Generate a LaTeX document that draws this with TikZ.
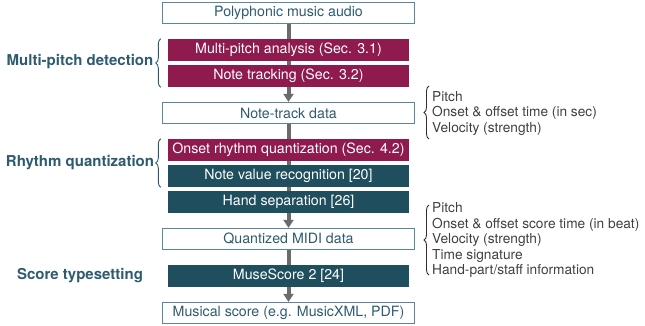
\documentclass[tikz,border=0pt]{standalone}
\usepackage{fontspec}
\setmainfont{TeX Gyre Heros}
\usetikzlibrary{arrows.meta,decorations.pathreplacing,backgrounds}
\definecolor{wine}{HTML}{8E1A4E}
\definecolor{petrol}{HTML}{1F4E5E}
\definecolor{frameblue}{HTML}{5A8799}
\definecolor{labelblue}{HTML}{2E5B70}
\definecolor{notegray}{HTML}{404040}
\definecolor{bracebrown}{HTML}{3B2B22}
\begin{document}
\begin{tikzpicture}[x=1pt,y=-1pt,
    font=\fontsize{14.2}{15.5}\selectfont,
    databox/.style={draw=frameblue,line width=1.2pt,fill=white,text=labelblue,
        minimum width=252pt,minimum height=21pt,inner sep=0pt},
    redbox/.style={fill=wine,text=white,minimum width=241pt,minimum height=22pt,inner sep=0pt},
    bluebox/.style={fill=petrol,text=white,minimum width=241pt,minimum height=22pt,inner sep=0pt},
    stage/.style={text=labelblue,font=\fontsize{15}{17}\selectfont\bfseries},
    flow/.style={-{Triangle[width=10pt,length=8pt]},draw=black!58,line width=4pt},
    lbrace/.style={decorate,decoration={brace,amplitude=5pt},draw=labelblue,line width=0.9pt},
    rbrace/.style={decorate,decoration={brace,amplitude=5pt},draw=bracebrown,line width=0.9pt},
    notes/.style={text=notegray,align=left,anchor=west,inner sep=0pt,
        font=\fontsize{13.7}{15.5}\selectfont}]
    \useasboundingbox (0,0) rectangle (645,325);

    % Pipeline
    \node[databox] (audio) at (288.5,13) {Polyphonic music audio};
    \node[redbox] (mpa) at (288.5,50) {Multi-pitch analysis (Sec. 3.1)};
    \node[redbox] (tracking) at (288.5,76) {Note tracking (Sec. 3.2)};
    \node[databox] (notetrack) at (288.5,113) {Note-track data};
    \node[redbox] (onset) at (288.5,150) {Onset rhythm quantization (Sec. 4.2)};
    \node[bluebox] (noteval) at (288.5,176) {Note value recognition [20]};
    \node[bluebox] (hand) at (288.5,202) {Hand separation [26]};
    \node[databox] (qmidi) at (288.5,239) {Quantized MIDI data};
    \node[bluebox] (musescore) at (288.5,276) {MuseScore 2 [24]};
    \node[databox] (score) at (288.5,313) {Musical score (e.g. MusicXML, PDF)};

    % Arrows behind the boxes
    \begin{scope}[on background layer]
        \draw[flow] (audio) -- (notetrack);
        \draw[flow] (notetrack) -- (qmidi);
        \draw[flow] (qmidi) -- (score);
    \end{scope}

    % Stages
    \draw[lbrace] ([xshift=-7pt]tracking.south west) -- ([xshift=-7pt]mpa.north west);
    \draw[lbrace] ([xshift=-7pt]noteval.south west) -- ([xshift=-7pt]onset.north west);
    \node[stage] (detect) at (80,62) {Multi-pitch detection};
    \node[stage] (rhythm) at (80,163) {Rhythm quantization};
    \node[stage] (typeset) at (80,276) {Score typesetting};

    % Data contents
    \coordinate (nt top) at (429,86);
    \coordinate (nt bot) at (429,139);
    \coordinate (qm top) at (429,205);
    \coordinate (qm bot) at (429,275);
    \draw[rbrace] (nt bot) -- (nt top);
    \draw[rbrace] (qm bot) -- (qm top);
    \node[notes] (ntinfo) at (432,113) {Pitch\\Onset \& offset time (in sec)\\Velocity (strength)};
    \node[notes] (qminfo) at (432,240) {Pitch\\Onset \& offset score time (in beat)\\Velocity (strength)\\Time signature\\Hand-part/staff information};
\end{tikzpicture}
\end{document}
